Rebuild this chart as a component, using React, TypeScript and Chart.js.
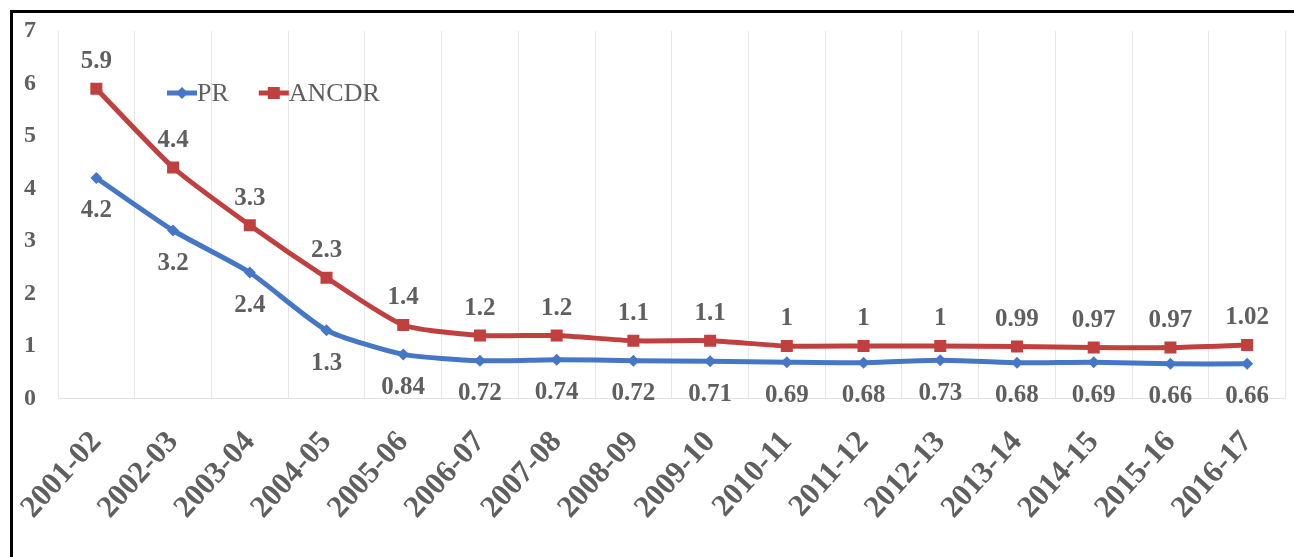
import React, { useEffect, useRef } from "react";
import { Chart, registerables } from "chart.js";

Chart.register(...registerables);

// Academic years on the horizontal axis
const years = [
  "2001-02", "2002-03", "2003-04", "2004-05", "2005-06", "2006-07", "2007-08", "2008-09",
  "2009-10", "2010-11", "2011-12", "2012-13", "2013-14", "2014-15", "2015-16", "2016-17",
];

// Series values
const prValues = [4.2, 3.2, 2.4, 1.3, 0.84, 0.72, 0.74, 0.72, 0.71, 0.69, 0.68, 0.73, 0.68, 0.69, 0.66, 0.66];
const ancdrValues = [5.9, 4.4, 3.3, 2.3, 1.4, 1.2, 1.2, 1.1, 1.1, 1, 1, 1, 0.99, 0.97, 0.97, 1.02];

const PR_COLOR = "#4677C6";
const ANCDR_COLOR = "#C0403F";
const LABEL_COLOR = "#5F5F5F";
const SERIF = "'Liberation Serif', 'Times New Roman', serif";

// Value labels: ANCDR above its points, PR below
const valueLabels = {
  id: "valueLabels",
  afterDatasetsDraw(chart: any) {
    const ctx = chart.ctx;
    ctx.save();
    ctx.font = `bold 25px ${SERIF}`;
    ctx.fillStyle = LABEL_COLOR;
    ctx.textAlign = "center";
    ctx.textBaseline = "middle";
    chart.data.datasets.forEach((ds: any, i: number) => {
      const meta = chart.getDatasetMeta(i);
      const above = ds.label === "ANCDR";
      meta.data.forEach((pt: any, j: number) => {
        const v = ds.data[j];
        const y = above ? pt.y - 27 : pt.y + 33;
        ctx.fillText(String(v), pt.x, y);
      });
    });
    ctx.restore();
  },
};

// Legend with line + marker swatches, placed inside the plot
const inlineLegend = {
  id: "inlineLegend",
  afterDraw(chart: any) {
    const ctx = chart.ctx;
    const y = 80;
    ctx.save();
    ctx.font = `26px ${SERIF}`;
    ctx.textBaseline = "middle";
    ctx.textAlign = "left";
    let x = 154;
    chart.data.datasets.forEach((ds: any) => {
      ctx.strokeStyle = ds.borderColor;
      ctx.lineWidth = 5;
      ctx.beginPath();
      ctx.moveTo(x, y);
      ctx.lineTo(x + 30, y);
      ctx.stroke();
      ctx.fillStyle = ds.borderColor;
      const cx = x + 15;
      ctx.beginPath();
      if (ds.pointStyle === "rectRot") {
        ctx.moveTo(cx - 6, y);
        ctx.lineTo(cx, y - 6);
        ctx.lineTo(cx + 6, y);
        ctx.lineTo(cx, y + 6);
        ctx.closePath();
      } else {
        ctx.rect(cx - 6, y - 6, 12, 12);
      }
      ctx.fill();
      ctx.fillStyle = LABEL_COLOR;
      ctx.fillText(ds.label, x + 30, y + 1);
      x += 30 + ctx.measureText(ds.label).width + 30;
    });
    ctx.restore();
  },
};

export default function App() {
  const canvasRef = useRef<HTMLCanvasElement | null>(null);

  useEffect(() => {
    const canvas = canvasRef.current;
    if (!canvas) return;
    const chart = new Chart(canvas, {
      type: "line",
      data: {
        labels: years,
        datasets: [
          {
            label: "PR",
            data: prValues,
            borderColor: PR_COLOR,
            backgroundColor: PR_COLOR,
            borderWidth: 5,
            pointStyle: "rectRot",
            pointRadius: 6,
            pointBorderWidth: 0,
            tension: 0.2,
          },
          {
            label: "ANCDR",
            data: ancdrValues,
            borderColor: ANCDR_COLOR,
            backgroundColor: ANCDR_COLOR,
            borderWidth: 5,
            pointStyle: "rect",
            pointRadius: 8.5,
            pointBorderWidth: 0,
            tension: 0.2,
          },
        ],
      },
      options: {
        responsive: false,
        animation: false,
        layout: { padding: { top: 18, left: 0, right: 0, bottom: 0 } },
        plugins: {
          legend: { display: false },
          tooltip: { enabled: false },
        },
        scales: {
          x: {
            offset: true,
            grid: { display: true, color: "#E6E6E6", lineWidth: 1, drawTicks: false, offset: true },
            border: { display: true, color: "#E3E3E3" },
            ticks: {
              color: LABEL_COLOR,
              font: { family: SERIF, size: 31, weight: "bold" },
              minRotation: 48,
              maxRotation: 48,
              padding: 26,
              autoSkip: false,
            },
            afterFit: (s: any) => {
              s.height = 158.5;
              s.paddingLeft = 0;
              s.paddingRight = 0;
            },
          },
          y: {
            min: 0,
            max: 7,
            grid: { display: false },
            border: { display: false },
            ticks: {
              stepSize: 1,
              color: LABEL_COLOR,
              font: { family: SERIF, size: 24, weight: "bold" },
              padding: 14,
            },
            afterFit: (s: any) => {
              s.width = 45;
              s.paddingTop = 0;
              s.paddingBottom = 0;
            },
          },
        },
      },
      plugins: [valueLabels, inlineLegend],
    });
    return () => chart.destroy();
  }, []);

  return (
    <div style={{ position: "fixed", left: 0, top: 0, width: 1294, height: 557, background: "#fff", overflow: "hidden" }}>
      <div
        style={{
          position: "absolute",
          left: 10,
          top: 10,
          width: 1284,
          height: 547,
          borderTop: "3px solid #000",
          borderLeft: "3px solid #000",
        }}
      >
        <canvas ref={canvasRef} width={1281} height={544} style={{ display: "block" }} />
      </div>
    </div>
  );
}
